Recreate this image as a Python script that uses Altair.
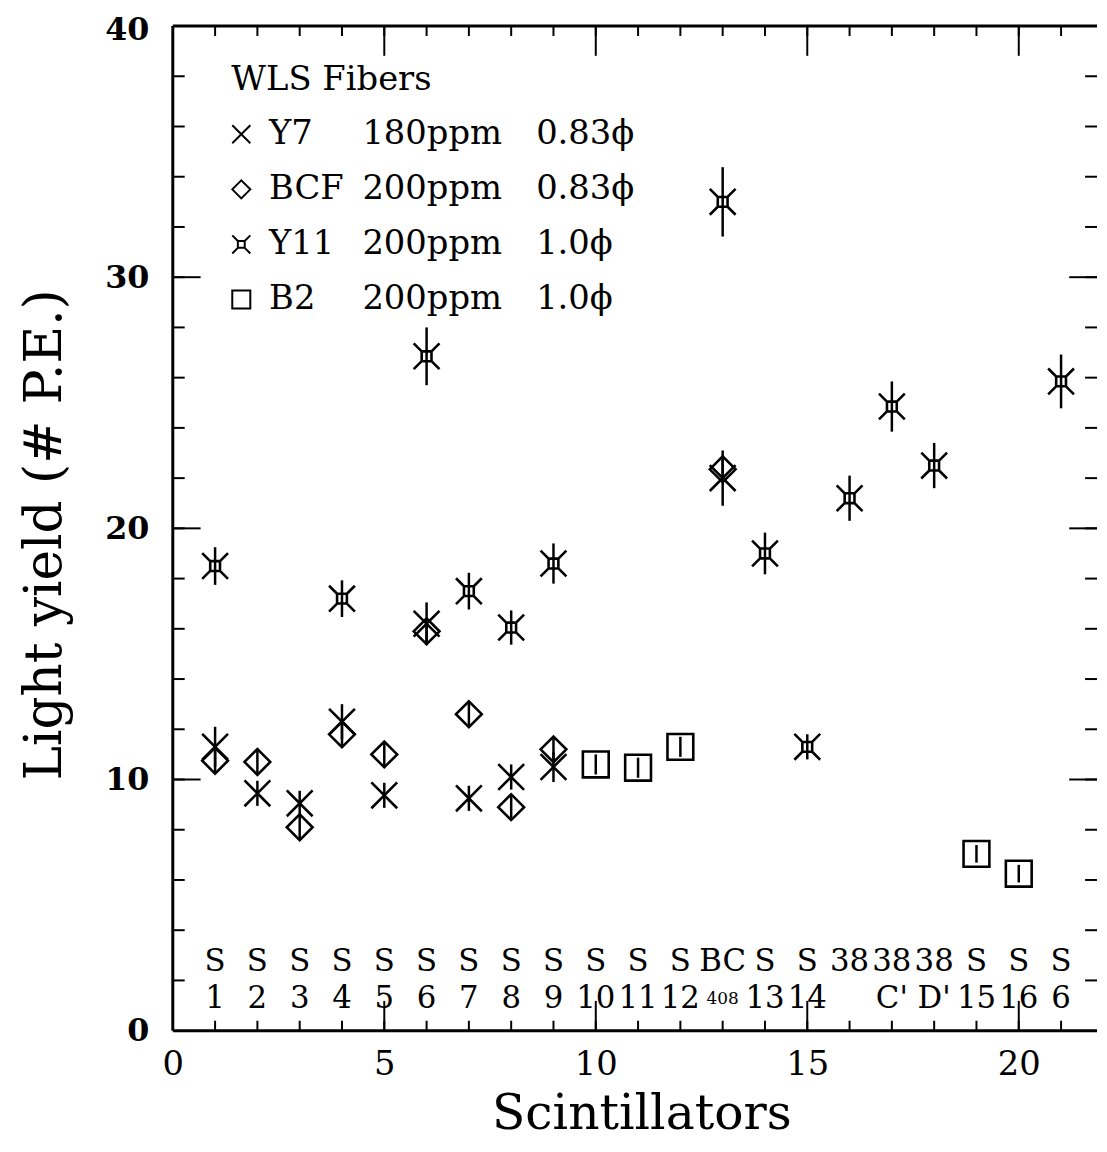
import altair as alt
import pandas as pd

# ---------------- data ----------------
y7_x = [1, 2, 3, 4, 5, 6, 7, 8, 9, 13]
y7_y = [11.3, 9.45, 9.05, 12.3, 9.37, 16.2, 9.25, 10.1, 10.5, 22.0]
y7_err = [0.8, 0.5, 0.5, 0.7, 0.5, 0.85, 0.5, 0.5, 0.6, 1.1]

bcf_x = [1, 2, 3, 4, 5, 6, 7, 8, 9, 13]
bcf_y = [10.75, 10.7, 8.1, 11.8, 11.0, 15.9, 12.6, 8.9, 11.2, 22.35]
bcf_err = [0.45, 0.45, 0.45, 0.45, 0.45, 0.45, 0.45, 0.45, 0.45, 0.45]

y11_x = [1, 4, 6, 7, 8, 9, 13, 14, 15, 16, 17, 18, 21]
y11_y = [18.5, 17.2, 26.85, 17.5, 16.05, 18.6, 33.0, 19.0, 11.3, 21.2, 24.85, 22.5, 25.85]
y11_err = [0.75, 0.73, 1.15, 0.73, 0.68, 0.8, 1.38, 0.83, 0.5, 0.9, 1.0, 0.9, 1.07]

b2_x = [10, 11, 12, 19, 20]
b2_y = [10.6, 10.47, 11.3, 7.04, 6.25]
b2_err = [0.4, 0.4, 0.4, 0.35, 0.35]

scint_x = list(range(1, 22))
scint_top = ["S", "S", "S", "S", "S", "S", "S", "S", "S", "S", "S", "S",
             "BC", "S", "S", "38", "38", "38", "S", "S", "S"]
scint_bottom = ["1", "2", "3", "4", "5", "6", "7", "8", "9", "10", "11", "12",
                "408", "13", "14", "", "C'", "D'", "15", "16", "6"]

series_names = ["Y7", "BCF", "Y11", "B2"]
legend_conc = ["180ppm", "200ppm", "200ppm", "200ppm"]
legend_diam = ["0.83ϕ", "0.83ϕ", "1.0ϕ", "1.0ϕ"]
legend_title = "WLS Fibers"

x_minor = list(range(1, 22))
x_major = [5, 10, 15, 20]
y_minor = [2, 4, 6, 8, 10, 12, 14, 16, 18, 20, 22, 24, 26, 28, 30, 32, 34, 36, 38]
y_major = [10, 20, 30]
x_labels = [0, 5, 10, 15, 20]
y_labels = [0, 10, 20, 30, 40]

# ---------------- layout ----------------
W, H = 931, 1012
XMAX = 21.85
FONT = "DejaVu Serif"

rows = []
for name, xs, ys, es in [("Y7", y7_x, y7_y, y7_err), ("BCF", bcf_x, bcf_y, bcf_err),
                         ("Y11", y11_x, y11_y, y11_err), ("B2", b2_x, b2_y, b2_err)]:
    for a, b, c in zip(xs, ys, es):
        rows.append({"series": name, "x": a, "y": b, "err": c})
pts = pd.DataFrame(rows)

X_SHAPE = "M-1,-1L1,1M1,-1L-1,1"
Y11_SHAPE = ("M-0.38,-0.38H0.38V0.38H-0.38Z"
             "M-0.38,-0.38L-1,-1M0.38,-0.38L1,-1M0.38,0.38L1,1M-0.38,0.38L-1,1")
shape_scale = alt.Scale(domain=series_names, range=[X_SHAPE, "diamond", Y11_SHAPE, "square"])

xscale = alt.Scale(domain=[0, XMAX], nice=False, zero=False)
yscale = alt.Scale(domain=[0, 40], nice=False, zero=False)

xaxis = alt.Axis(values=x_labels, title="Scintillators", domain=False, ticks=False, grid=False,
                 labelFont=FONT, labelFontSize=34, labelPadding=17, labelColor="black",
                 labelFlush=False, labelBaseline="top",
                 titleFont=FONT, titleFontSize=49, titleFontWeight="normal", titleColor="black",
                 titleX=472, titleY=99, titleAlign="center", titleBaseline="alphabetic")
yaxis = alt.Axis(values=y_labels, title="Light yield (# P.E.)", domain=False, ticks=False, grid=False,
                 labelFont=FONT, labelFontSize=32, labelFontWeight="bold", labelPadding=24,
                 labelColor="black", labelFlush=False, labelBaseline="middle",
                 labelOffset={"condition": {"test": "datum.value === 40", "value": 4}, "value": 0},
                 titleFont=FONT, titleFontSize=52, titleFontWeight="normal", titleColor="black",
                 titleX=-129, titleY=512, titleAngle=-90, titleAlign="center", titleBaseline="middle")


def X(field):
    return alt.X(field, type="quantitative", scale=xscale, axis=xaxis)


def Y(field):
    return alt.Y(field, type="quantitative", scale=yscale, axis=yaxis)


errbars = alt.Chart(pts).transform_calculate(
    lo="datum.y - datum.err", hi="datum.y + datum.err"
).mark_rule(color="black", strokeWidth=2.5).encode(
    x=X("x"), y=Y("lo"), y2="hi:Q"
)

points = alt.Chart(pts).mark_point(size=676, filled=False, color="black", strokeWidth=2.6,
                                   opacity=1).encode(
    x=X("x"), y=Y("y"),
    shape=alt.Shape("series:N", scale=shape_scale, legend=None)
)

# frame lines
one = pd.DataFrame({"a": [0]})
frame_top = alt.Chart(one).mark_rule(color="black", strokeWidth=3).encode(
    x=alt.value(0), x2=alt.value(W), y=alt.value(0))
frame_left = alt.Chart(one).mark_rule(color="black", strokeWidth=3).encode(
    x=alt.value(0), y=alt.value(0), y2=alt.value(H))
frame_bottom = alt.Chart(one).mark_rule(color="black", strokeWidth=3).encode(
    x=alt.value(0), x2=alt.value(W), y=alt.value(H))

xmin_df = pd.DataFrame({"t": x_minor})
xmaj_df = pd.DataFrame({"t": x_major})
ymin_df = pd.DataFrame({"t": y_minor})
ymaj_df = pd.DataFrame({"t": y_major})


def xticks(df, length):
    b = alt.Chart(df).mark_rule(color="black", strokeWidth=2).encode(
        x=X("t"), y=alt.value(H), y2=alt.value(H - length))
    t = alt.Chart(df).mark_rule(color="black", strokeWidth=2).encode(
        x=X("t"), y=alt.value(0), y2=alt.value(length))
    return [b, t]


def yticks(df, length):
    l = alt.Chart(df).mark_rule(color="black", strokeWidth=2).encode(
        y=Y("t"), x=alt.value(0), x2=alt.value(length))
    r = alt.Chart(df).mark_rule(color="black", strokeWidth=2).encode(
        y=Y("t"), x=alt.value(W), x2=alt.value(W - length))
    return [l, r]


tick_layers = xticks(xmin_df, 10) + xticks(xmaj_df, 30) + yticks(ymin_df, 12) + yticks(ymaj_df, 28)

# scintillator names along the bottom
scint = pd.DataFrame({"x": scint_x, "top": scint_top, "bottom": scint_bottom})
scint_top_txt = alt.Chart(scint).mark_text(font=FONT, fontSize=31, color="black",
                                           baseline="middle", align="center").encode(
    x=X("x"), y=alt.value(943), text="top:N")
scint_bot_txt = alt.Chart(scint).transform_calculate(
    fs="datum.bottom == '408' ? 17 : 31"
).mark_text(font=FONT, color="black", baseline="middle", align="center").encode(
    x=X("x"), y=alt.value(980), text="bottom:N", size=alt.Size("fs:Q", scale=None))

# in-plot legend
leg = pd.DataFrame({"series": series_names, "conc": legend_conc, "diam": legend_diam,
                    "idx": list(range(len(series_names)))})
leg_y = "40*(1-(109+datum.idx*55.5)/%d)" % H
leg_base = alt.Chart(leg).transform_calculate(yv=leg_y)
leg_sym = leg_base.mark_point(size=330, filled=False, color="black", strokeWidth=2,
                              opacity=1).encode(
    x=alt.value(69), y=Y("yv"),
    shape=alt.Shape("series:N", scale=shape_scale, legend=None))
leg_name = leg_base.mark_text(font=FONT, fontSize=34, color="black", align="left",
                              baseline="middle").encode(
    x=alt.value(97), y=Y("yv"), text="series:N")
leg_conc = leg_base.mark_text(font=FONT, fontSize=34, color="black", align="left",
                              baseline="middle").encode(
    x=alt.value(191), y=Y("yv"), text="conc:N")
leg_diam = leg_base.mark_text(font=FONT, fontSize=34, color="black", align="left",
                              baseline="middle").encode(
    x=alt.value(366), y=Y("yv"), text="diam:N")
leg_head = alt.Chart(pd.DataFrame({"t": [legend_title]})).mark_text(
    font=FONT, fontSize=34, color="black", align="left", baseline="middle").encode(
    x=alt.value(59), y=alt.value(54), text="t:N")

chart = alt.layer(
    frame_top, frame_left, frame_bottom, *tick_layers,
    errbars, points, scint_top_txt, scint_bot_txt,
    leg_head, leg_sym, leg_name, leg_conc, leg_diam
).properties(
    width=W, height=H,
    autosize=alt.AutoSizeParams(type="none"),
    padding={"left": 166, "top": 14, "right": 2, "bottom": 110},
    background="white"
).configure_view(stroke=None)

chart.save("out.html", embed_options={"renderer": "svg", "actions": False})
